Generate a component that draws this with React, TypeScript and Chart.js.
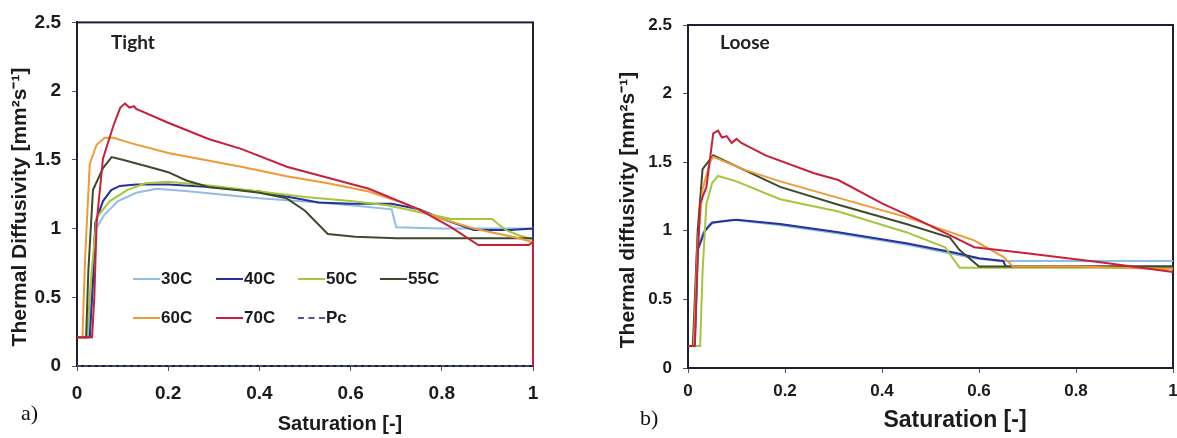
import React, { useEffect, useRef } from "react";
import { Chart, registerables } from "chart.js";

Chart.register(...registerables);

// ---------- data ----------
const seriesNames = ["30C", "40C", "50C", "55C", "60C", "70C", "Pc"];
const seriesColors = ["#8fbde3", "#24329a", "#a4c639", "#3f4a2c", "#ee9a36", "#c8203c", "#4b5a8c"];
const xTickValues = [0, 0.2, 0.4, 0.6, 0.8, 1];
const yTickValues = [0, 0.5, 1, 1.5, 2, 2.5];

// Tight packing (panel a): [saturation, diffusivity]
const tight30C: [number, number][] = [
  [0, 0.21], [0.024, 0.21], [0.03, 0.5], [0.04, 0.99], [0.06, 1.1], [0.09, 1.2], [0.13, 1.26],
  [0.175, 1.29], [0.25, 1.27], [0.31, 1.25], [0.4, 1.22], [0.53, 1.19], [0.6, 1.17], [0.69, 1.14],
  [0.7, 1.01], [0.8, 1.0], [0.9, 1.0], [1, 1.0], [1, 0],
];
const tight40C: [number, number][] = [
  [0, 0.21], [0.028, 0.21], [0.035, 0.6], [0.04, 1.04], [0.057, 1.2], [0.075, 1.28], [0.094, 1.31],
  [0.13, 1.32], [0.2, 1.32], [0.3, 1.3], [0.4, 1.27], [0.53, 1.19], [0.6, 1.18], [0.69, 1.18],
  [0.75, 1.14], [0.81, 1.06], [0.87, 0.99], [0.95, 0.99], [1, 1.0], [1, 0],
];
const tight50C: [number, number][] = [
  [0, 0.21], [0.022, 0.21], [0.03, 0.6], [0.043, 1.08], [0.072, 1.2], [0.11, 1.28], [0.15, 1.33],
  [0.2, 1.34], [0.3, 1.31], [0.4, 1.27], [0.5, 1.23], [0.6, 1.2], [0.68, 1.17], [0.75, 1.12],
  [0.82, 1.07], [0.91, 1.07], [0.94, 0.99], [0.97, 0.95], [1, 0.92], [1, 0],
];
const tight55C: [number, number][] = [
  [0, 0.21], [0.02, 0.21], [0.025, 0.7], [0.035, 1.28], [0.057, 1.44], [0.076, 1.52], [0.1, 1.5],
  [0.167, 1.44], [0.2, 1.41], [0.24, 1.35], [0.29, 1.3], [0.35, 1.28], [0.4, 1.26], [0.46, 1.22],
  [0.5, 1.13], [0.55, 0.96], [0.61, 0.94], [0.7, 0.93], [0.85, 0.93], [1, 0.93], [1, 0],
];
const tight60C: [number, number][] = [
  [0, 0.21], [0.012, 0.21], [0.018, 0.8], [0.028, 1.47], [0.043, 1.61], [0.061, 1.66], [0.08, 1.66],
  [0.12, 1.62], [0.2, 1.55], [0.31, 1.48], [0.36, 1.45], [0.46, 1.38], [0.55, 1.33], [0.64, 1.27],
  [0.72, 1.18], [0.79, 1.08], [0.87, 1.0], [0.97, 0.93], [1, 0.9], [1, 0],
];
const tight70C: [number, number][] = [
  [0, 0.21], [0.033, 0.21], [0.038, 0.5], [0.043, 1.04], [0.057, 1.51], [0.08, 1.75], [0.095, 1.88],
  [0.105, 1.91], [0.115, 1.88], [0.125, 1.89], [0.13, 1.87], [0.2, 1.77], [0.29, 1.65], [0.36, 1.58],
  [0.46, 1.45], [0.55, 1.37], [0.64, 1.29], [0.75, 1.14], [0.82, 1.01], [0.88, 0.88], [0.95, 0.88],
  [0.99, 0.88], [1, 0.9], [1, 0],
];
const tightPc: [number, number][] = [[0, 0], [1, 0]];

// Loose packing (panel b)
const loose30C: [number, number][] = [
  [0, 0.16], [0.012, 0.16], [0.018, 0.84], [0.03, 0.98], [0.045, 1.05], [0.07, 1.07], [0.093, 1.08],
  [0.19, 1.04], [0.31, 0.98], [0.45, 0.9], [0.59, 0.8], [0.64, 0.78], [0.8, 0.78], [1, 0.78],
];
const loose40C: [number, number][] = [
  [0, 0.16], [0.014, 0.16], [0.02, 0.86], [0.035, 1.0], [0.05, 1.06], [0.1, 1.08], [0.19, 1.05],
  [0.31, 0.99], [0.45, 0.91], [0.55, 0.84], [0.6, 0.8], [0.65, 0.78], [0.655, 0.74], [0.8, 0.74], [1, 0.74],
];
const loose50C: [number, number][] = [
  [0, 0.16], [0.025, 0.16], [0.03, 0.7], [0.038, 1.2], [0.05, 1.35], [0.062, 1.4], [0.1, 1.36],
  [0.19, 1.23], [0.31, 1.14], [0.45, 0.99], [0.53, 0.88], [0.56, 0.73], [0.7, 0.73], [1, 0.73],
];
const loose55C: [number, number][] = [
  [0, 0.16], [0.01, 0.16], [0.02, 1.0], [0.03, 1.45], [0.052, 1.55], [0.1, 1.47], [0.19, 1.32],
  [0.31, 1.19], [0.45, 1.05], [0.54, 0.95], [0.56, 0.86], [0.6, 0.74], [0.8, 0.74], [1, 0.74],
];
const loose60C: [number, number][] = [
  [0, 0.16], [0.012, 0.16], [0.02, 0.9], [0.03, 1.3], [0.045, 1.5], [0.052, 1.54], [0.12, 1.44],
  [0.19, 1.36], [0.31, 1.24], [0.45, 1.1], [0.59, 0.93], [0.65, 0.81], [0.67, 0.74], [0.8, 0.74], [1, 0.72],
];
const loose70C: [number, number][] = [
  [0, 0.16], [0.014, 0.16], [0.02, 0.8], [0.025, 1.2], [0.038, 1.32], [0.052, 1.71], [0.062, 1.73],
  [0.07, 1.68], [0.08, 1.69], [0.09, 1.64], [0.1, 1.67], [0.11, 1.64], [0.16, 1.55], [0.26, 1.42],
  [0.31, 1.37], [0.4, 1.2], [0.48, 1.07], [0.55, 0.95], [0.59, 0.88], [0.69, 0.84], [0.85, 0.77], [1, 0.7],
];

const tightSeries = [tight30C, tight40C, tight50C, tight55C, tight60C, tight70C, tightPc];
const looseSeries = [loose30C, loose40C, loose50C, loose55C, loose60C, loose70C];

// ---------- drawing ----------
const SANS = '"Liberation Sans", Arial, sans-serif';

type PanelOpts = {
  series: [number, number][][];
  yTitle: string;
  xTitle: string;
  label: string;
  padTop: number;
  padRight: number;
  yWidth: number;
  xHeight: number;
  tickSize: number;
  xTickPad: number;
  yTitleX: number;
  yTitleY: number;
  yTitleSize: number;
  xTitleX: number;
  xTitleY: number;
  xTitleSize: number;
  labelX: number;
  labelY: number;
};

function makePlugin(o: PanelOpts) {
  return {
    id: "panelDecor",
    beforeDatasetsDraw(chart: any) {
      const { ctx, chartArea: a } = chart;
      ctx.save();
      ctx.strokeStyle = "#1d2035";
      ctx.lineWidth = 2;
      ctx.strokeRect(a.left, a.top, a.right - a.left, a.bottom - a.top);
      ctx.restore();
    },
    afterDraw(chart: any) {
      const { ctx } = chart;
      ctx.save();
      ctx.fillStyle = "#1b1b1b";
      ctx.textAlign = "center";
      ctx.textBaseline = "middle";
      ctx.font = `bold ${o.xTitleSize}px ${SANS}`;
      ctx.fillText(o.xTitle, o.xTitleX, o.xTitleY);
      ctx.save();
      ctx.translate(o.yTitleX, o.yTitleY);
      ctx.rotate(-Math.PI / 2);
      ctx.font = `bold ${o.yTitleSize}px ${SANS}`;
      ctx.fillText(o.yTitle, 0, 0);
      ctx.restore();
      ctx.textAlign = "left";
      ctx.font = `bold 19px Lato, "Open Sans", sans-serif`;
      ctx.fillStyle = "#222";
      ctx.fillText(o.label, o.labelX, o.labelY);
      ctx.restore();
    },
  };
}

function Panel({ left, width, opts }: { left: number; width: number; opts: PanelOpts }) {
  const ref = useRef<HTMLCanvasElement | null>(null);
  useEffect(() => {
    if (!ref.current) return;
    const datasets = opts.series.map((d, i) => ({
      label: seriesNames[i],
      data: d,
      borderColor: seriesColors[i],
      backgroundColor: seriesColors[i],
      borderWidth: i === 6 ? 1.5 : 2,
      borderDash: i === 6 ? [4, 3] : [],
      pointRadius: 0,
      tension: 0,
      fill: false,
      clip: 4,
      order: 10 - i,
    }));
    const tickLabel = (v: any) => String(Number(v));
    const chart = new Chart(ref.current, {
      type: "line",
      data: { datasets },
      options: {
        animation: false,
        responsive: false,
        devicePixelRatio: 1,
        layout: { padding: { left: 0, top: opts.padTop, right: opts.padRight, bottom: 0 } },
        plugins: { legend: { display: false }, tooltip: { enabled: false } },
        scales: {
          x: {
            type: "linear",
            min: 0,
            max: 1,
            afterBuildTicks: (s: any) => {
              s.ticks = xTickValues.map((v) => ({ value: v }));
            },
            afterFit: (s: any) => {
              s.height = opts.xHeight;
            },
            grid: { drawOnChartArea: false, drawTicks: true, tickLength: 5, color: "#555" },
            border: { display: true, color: "#1d2035", width: 2 },
            ticks: {
              padding: opts.xTickPad,
              color: "#1b1b1b",
              font: { family: SANS, size: opts.tickSize, weight: "bold" },
              maxRotation: 0,
              callback: tickLabel,
            },
          },
          y: {
            type: "linear",
            min: 0,
            max: 2.5,
            afterBuildTicks: (s: any) => {
              s.ticks = yTickValues.map((v) => ({ value: v }));
            },
            afterFit: (s: any) => {
              s.width = opts.yWidth;
            },
            grid: { drawOnChartArea: false, drawTicks: true, tickLength: 5, color: "#555" },
            border: { display: true, color: "#1d2035", width: 2 },
            ticks: {
              padding: 11,
              color: "#1b1b1b",
              font: { family: SANS, size: opts.tickSize, weight: "bold" },
              callback: tickLabel,
            },
          },
        },
      },
      plugins: [makePlugin(opts)],
    } as any);
    return () => chart.destroy();
  }, []);
  return (
    <canvas
      ref={ref}
      width={width}
      height={438}
      style={{ position: "absolute", left, top: 0, width, height: 438 }}
    />
  );
}

const tightOpts: PanelOpts = {
  series: tightSeries,
  yTitle: "Thermal Diffusivity [mm²s⁻¹]",
  xTitle: "Saturation [-]",
  label: "Tight",
  padTop: 21,
  padRight: 17,
  yWidth: 77,
  xHeight: 72,
  tickSize: 19,
  xTickPad: 11,
  yTitleX: 20,
  yTitleY: 207,
  yTitleSize: 21,
  xTitleX: 340,
  xTitleY: 424,
  xTitleSize: 20,
  labelX: 111,
  labelY: 43,
};

const looseOpts: PanelOpts = {
  series: looseSeries,
  yTitle: "Thermal diffusivity [mm²s⁻¹]",
  xTitle: "Saturation [-]",
  label: "Loose",
  padTop: 25,
  padRight: 17,
  yWidth: 98,
  xHeight: 70,
  tickSize: 17,
  xTickPad: 8,
  yTitleX: 38,
  yTitleY: 210,
  yTitleSize: 21,
  xTitleX: 365,
  xTitleY: 421,
  xTitleSize: 23,
  labelX: 130,
  labelY: 43,
};

function LegendItem({ i, x, y }: { i: number; x: number; y: number }) {
  return (
    <div style={{ position: "absolute", left: x, top: y - 12, height: 24, display: "flex", alignItems: "center" }}>
      <div
        style={{
          width: 27,
          height: 0,
          borderTop: i === 6 ? `2px dashed ${seriesColors[i]}` : `2px solid ${seriesColors[i]}`,
          marginRight: 1,
        }}
      />
      <span style={{ font: `bold 17px ${SANS}`, color: "#1b1b1b" }}>{seriesNames[i]}</span>
    </div>
  );
}

export default function App() {
  const cols = [133, 216, 298, 380];
  return (
    <div
      style={{
        position: "absolute",
        left: 0,
        top: 0,
        width: 1177,
        height: 438,
        overflow: "hidden",
        background: "#fff",
      }}
    >
      <Panel left={0} width={550} opts={tightOpts} />
      <Panel left={590} width={600} opts={looseOpts} />
      {[0, 1, 2, 3].map((i) => (
        <LegendItem key={i} i={i} x={cols[i]} y={279} />
      ))}
      {[4, 5, 6].map((i, k) => (
        <LegendItem key={i} i={i} x={cols[k]} y={318} />
      ))}
      <div
        style={{
          position: "absolute",
          left: 21,
          top: 400,
          font: '22px "Liberation Serif", "Times New Roman", serif',
          color: "#111",
        }}
      >
        a)
      </div>
      <div
        style={{
          position: "absolute",
          left: 640,
          top: 405,
          font: '22px "Liberation Serif", "Times New Roman", serif',
          color: "#111",
        }}
      >
        b)
      </div>
    </div>
  );
}
